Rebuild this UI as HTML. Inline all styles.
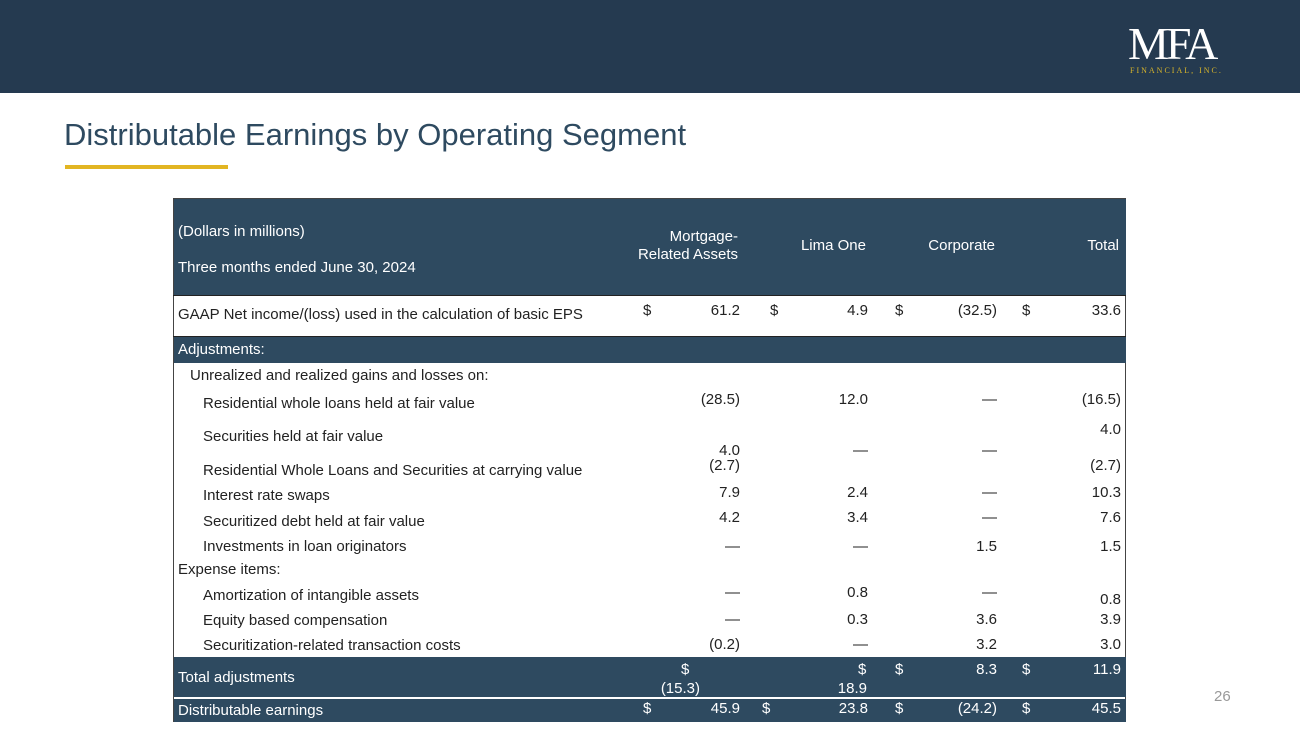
<!DOCTYPE html>
<html><head><meta charset="utf-8"><style>
body{margin:0;width:1300px;height:731px;position:relative;background:#fff;font-family:"Liberation Sans",sans-serif;overflow:hidden}
.a{position:absolute;white-space:nowrap;font-size:15px;line-height:18px;color:#222}
.r{text-align:right}
.w{color:#fff}
.bg{position:absolute;background:#2e4a60}
</style></head><body>
<div style="position:absolute;left:0;top:0;width:1300px;height:93px;background:#253a50"></div>
<div style="position:absolute;left:1128px;top:22px;width:130px;height:60px">
<div style="position:absolute;left:0;top:0;font-family:'Liberation Serif',serif;font-size:46px;line-height:44px;color:#fff;letter-spacing:-3px">MFA</div>
<div style="position:absolute;left:2px;top:44px;font-family:'Liberation Serif',serif;font-size:8px;color:#d8b52a;letter-spacing:2px;white-space:nowrap">FINANCIAL, INC.</div>
</div>
<div style="position:absolute;left:64px;top:117px;font-size:31px;color:#2e4a60;white-space:nowrap">Distributable Earnings by Operating Segment</div>
<div style="position:absolute;left:65px;top:165px;width:163px;height:4px;background:#e2b522"></div>
<div class="a" style="left:1214px;top:688px;color:#999">26</div>

<div style="position:absolute;left:173px;top:198px;width:953px;height:524px;border:1px solid #444;box-sizing:border-box"></div>
<div class="bg" style="left:174px;top:199px;width:952px;height:96px"></div>
<div style="position:absolute;left:173px;top:295px;width:953px;height:42px;border-top:1px solid #222;border-bottom:1px solid #222;box-sizing:border-box"></div>
<div class="bg" style="left:174px;top:337px;width:952px;height:26px"></div>
<div class="bg" style="left:174px;top:657px;width:952px;height:40px"></div>
<div class="bg" style="left:174px;top:699px;width:952px;height:23px"></div>

<div class="a w" style="left:178px;top:223px">(Dollars in millions)</div>
<div class="a w" style="left:178px;top:259px">Three months ended June 30, 2024</div>
<div class="a w r" style="right:562px;top:228px">Mortgage-<br>Related Assets</div>
<div class="a w r" style="right:434px;top:237px">Lima One</div>
<div class="a w r" style="right:305px;top:237px">Corporate</div>
<div class="a w r" style="right:181px;top:237px">Total</div>

<div class="a" style="left:178px;top:306px">GAAP Net income/(loss) used in the calculation of basic EPS</div>
<div class="a" style="left:643px;top:302px">$</div><div class="a r" style="right:560px;top:302px">61.2</div>
<div class="a" style="left:770px;top:302px">$</div><div class="a r" style="right:432px;top:302px">4.9</div>
<div class="a" style="left:895px;top:302px">$</div><div class="a r" style="right:303px;top:302px">(32.5)</div>
<div class="a" style="left:1022px;top:302px">$</div><div class="a r" style="right:179px;top:302px">33.6</div>

<div class="a w" style="left:178px;top:341px">Adjustments:</div>
<div class="a" style="left:190px;top:367px">Unrealized and realized gains and losses on:</div>

<div class="a" style="left:203px;top:395px">Residential whole loans held at fair value</div>
<div class="a r" style="right:560px;top:391px">(28.5)</div><div class="a r" style="right:432px;top:391px">12.0</div><div class="a r" style="right:303px;top:391px">—</div><div class="a r" style="right:179px;top:391px">(16.5)</div>

<div class="a" style="left:203px;top:428px">Securities held at fair value</div>
<div class="a r" style="right:560px;top:442px">4.0</div><div class="a r" style="right:432px;top:442px">—</div><div class="a r" style="right:303px;top:442px">—</div><div class="a r" style="right:179px;top:421px">4.0</div>

<div class="a" style="left:203px;top:462px">Residential Whole Loans and Securities at carrying value</div>
<div class="a r" style="right:560px;top:457px">(2.7)</div><div class="a r" style="right:179px;top:457px">(2.7)</div>

<div class="a" style="left:203px;top:487px">Interest rate swaps</div>
<div class="a r" style="right:560px;top:484px">7.9</div><div class="a r" style="right:432px;top:484px">2.4</div><div class="a r" style="right:303px;top:484px">—</div><div class="a r" style="right:179px;top:484px">10.3</div>

<div class="a" style="left:203px;top:513px">Securitized debt held at fair value</div>
<div class="a r" style="right:560px;top:509px">4.2</div><div class="a r" style="right:432px;top:509px">3.4</div><div class="a r" style="right:303px;top:509px">—</div><div class="a r" style="right:179px;top:509px">7.6</div>

<div class="a" style="left:203px;top:538px">Investments in loan originators</div>
<div class="a r" style="right:560px;top:538px">—</div><div class="a r" style="right:432px;top:538px">—</div><div class="a r" style="right:303px;top:538px">1.5</div><div class="a r" style="right:179px;top:538px">1.5</div>

<div class="a" style="left:178px;top:561px">Expense items:</div>
<div class="a" style="left:203px;top:587px">Amortization of intangible assets</div>
<div class="a r" style="right:560px;top:584px">—</div><div class="a r" style="right:432px;top:584px">0.8</div><div class="a r" style="right:303px;top:584px">—</div><div class="a r" style="right:179px;top:591px">0.8</div>

<div class="a" style="left:203px;top:612px">Equity based compensation</div>
<div class="a r" style="right:560px;top:611px">—</div><div class="a r" style="right:432px;top:611px">0.3</div><div class="a r" style="right:303px;top:611px">3.6</div><div class="a r" style="right:179px;top:611px">3.9</div>

<div class="a" style="left:203px;top:637px">Securitization-related transaction costs</div>
<div class="a r" style="right:560px;top:636px">(0.2)</div><div class="a r" style="right:432px;top:636px">—</div><div class="a r" style="right:303px;top:636px">3.2</div><div class="a r" style="right:179px;top:636px">3.0</div>

<div class="a w" style="left:178px;top:669px">Total adjustments</div>
<div class="a w" style="left:681px;top:661px">$</div><div class="a w r" style="right:600px;top:680px">(15.3)</div>
<div class="a w" style="left:858px;top:661px">$</div><div class="a w r" style="right:433px;top:680px">18.9</div>
<div class="a w" style="left:895px;top:661px">$</div><div class="a w r" style="right:303px;top:661px">8.3</div>
<div class="a w" style="left:1022px;top:661px">$</div><div class="a w r" style="right:179px;top:661px">11.9</div>

<div class="a w" style="left:178px;top:702px">Distributable earnings</div>
<div class="a w" style="left:643px;top:700px">$</div><div class="a w r" style="right:560px;top:700px">45.9</div>
<div class="a w" style="left:762px;top:700px">$</div><div class="a w r" style="right:432px;top:700px">23.8</div>
<div class="a w" style="left:895px;top:700px">$</div><div class="a w r" style="right:303px;top:700px">(24.2)</div>
<div class="a w" style="left:1022px;top:700px">$</div><div class="a w r" style="right:179px;top:700px">45.5</div>
</body></html>
